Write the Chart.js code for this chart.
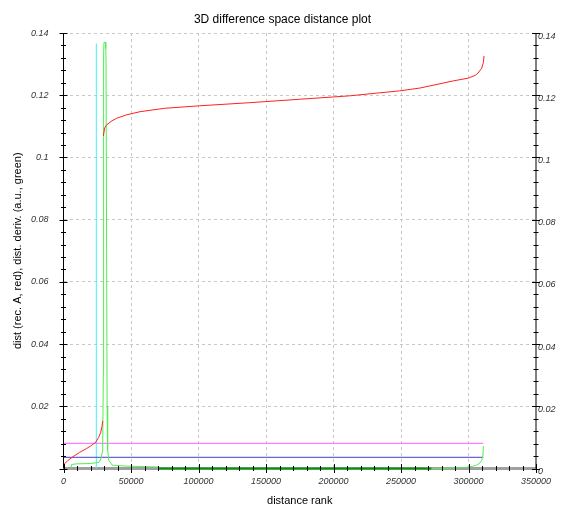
<!DOCTYPE html>
<html><head><meta charset="utf-8">
<script src="https://cdn.jsdelivr.net/npm/chart.js@4"></script>
<style>html,body{margin:0;padding:0;background:#fff}</style>
</head><body>
<canvas id="c" width="565" height="509" style="display:block;width:565px;height:509px"></canvas>
<script>
// ---- data ----
const redX = [0, 3000, 7000, 12000, 17000, 20000, 24000, 26000, 27500, 28500, 29000, 29200, 29500, 30500, 32000, 35000, 39400, 46800, 56700, 75000, 101000, 138000, 175000, 212000, 249000, 264000, 288700, 300000, 305000, 307000, 309800, 311000, 311500];
const redY = [0.0012, 0.0025, 0.0038, 0.0052, 0.0064, 0.0072, 0.0085, 0.0100, 0.0115, 0.0135, 0.0153, null, 0.1069, 0.1095, 0.1105, 0.1115, 0.1126, 0.1137, 0.1147, 0.1158, 0.1166, 0.1176, 0.1187, 0.1198, 0.1214, 0.1223, 0.1246, 0.1255, 0.1264, 0.1271, 0.1287, 0.1305, 0.1326];

const greenX = [5500, 6000, 10000, 20000, 26500, 28000, 29000, 29500, 29700, 30000, 31000, 31300, 31500, 32000, 32300, 32700, 33500, 36000, 45000, 60000, 70000];
const greenY = [0, 0.0013, 0.0015, 0.0016, 0.0020, 0.0035, 0.0060, 0.0300, 0.1330, 0.1370, 0.1370, 0.1350, 0.1310, 0.1310, 0.0200, 0.0060, 0.0027, 0.0011, 0.0008, 0.0006, 0.0005];

const greenTailX = [272600, 285000, 298700, 303000, 306000, 308500, 309800, 310700, 311000];
const greenTailY = [0, 0.0001, 0.0004, 0.0007, 0.0011, 0.0018, 0.0027, 0.0040, 0.0072];

const baseX = [70000, 272600];
const baseY = [0, 0];

const cyanX = [24300, 24300];
const cyanY = [0, 0.1366];

const pinkX = [0, 311000];
const pinkY = [0.0081, 0.0081];

const blueX = [0, 311000];
const blueY = [0.0036, 0.0036];

const xMajorStep = 50000, xMinorStep = 10000, xMax = 350000;
const yMajorStep = 0.02, yMinorStep = 0.004, yMax = 0.14;

const pts = (xs, ys) => xs.map((x, i) => ({x: x, y: ys[i]}));

const FONT = "'Liberation Sans', Arial, sans-serif";

const axisPlugin = {
  id: 'axisDecor',
  beforeDatasetsDraw(chart) {
    const {ctx, chartArea: a} = chart;
    ctx.save();
    ctx.strokeStyle = '#a0a0a0';
    ctx.lineWidth = 3;
    ctx.beginPath();
    ctx.moveTo(a.left, a.bottom);
    ctx.lineTo(a.right, a.bottom);
    ctx.stroke();
    ctx.restore();
  },
  afterDatasetsDraw(chart) {
    const {ctx, chartArea: a} = chart;
    const xs = chart.scales.x, ys = chart.scales.y;
    ctx.save();
    ctx.strokeStyle = '#000';
    ctx.lineWidth = 1;
    const line = (x1, y1, x2, y2) => { ctx.beginPath(); ctx.moveTo(x1, y1); ctx.lineTo(x2, y2); ctx.stroke(); };
    line(a.left, a.top, a.left, a.bottom);
    line(a.right, a.top, a.right, a.bottom);
    const ny = Math.round(yMax / yMinorStep);
    for (let i = 0; i <= ny; i++) {
      const py = Math.round(ys.getPixelForValue(i * yMinorStep)) + 0.5;
      const len = (i % 5 === 0) ? 4 : 2.5;
      line(a.left - len, py, a.left + len, py);
      line(a.right - len, py, a.right + len, py);
    }
    const nx = Math.round(xMax / xMinorStep);
    for (let i = 0; i <= nx; i++) {
      const px = Math.round(xs.getPixelForValue(i * xMinorStep)) + 0.5;
      const len = (i % 5 === 0) ? 4.5 : 2.5;
      line(px, a.bottom - len, px, a.bottom + len);
    }
    ctx.restore();
  }
};

const fmtY = v => String(parseFloat(Number(v).toFixed(3)));

new Chart(document.getElementById('c'), {
  type: 'line',
  data: {
    datasets: [
      {data: pts(redX, redY), borderColor: '#ff2020', order: 1},
      {data: pts(greenX, greenY), borderColor: '#50ee50', order: 2},
      {data: pts(greenTailX, greenTailY), borderColor: '#50ee50', order: 2},
      {data: pts(baseX, baseY), borderColor: '#009a00', borderWidth: 2, order: 3},
      {data: pts(blueX, blueY), borderColor: '#4040d0', order: 4},
      {data: pts(pinkX, pinkY), borderColor: '#ff60ff', order: 5},
      {data: pts(cyanX, cyanY), borderColor: '#40f0f0', order: 6}
    ].map(d => Object.assign({borderWidth: 1, pointRadius: 0, tension: 0, fill: false, clip: false, spanGaps: false}, d))
  },
  options: {
    responsive: false,
    devicePixelRatio: 1,
    animation: false,
    layout: {padding: 0},
    plugins: {
      legend: {display: false},
      tooltip: {enabled: false},
      title: {
        display: true,
        text: '3D difference space distance plot',
        color: '#000',
        font: {family: FONT, size: 12, weight: 'normal'},
        padding: {top: 12.8, bottom: 5.8}
      }
    },
    scales: {
      x: {
        type: 'linear', min: 0, max: xMax,
        afterFit: s => { s.height = 40.5; },
        ticks: {
          stepSize: xMajorStep, color: '#333', padding: 8, maxRotation: 0, autoSkip: false,
          font: {family: FONT, size: 9, style: 'italic'},
          callback: v => String(v)
        },
        grid: {
          drawTicks: false, lineWidth: 1,
          color: c => (c.tick && (c.tick.value === 0 || c.tick.value === xMax)) ? 'rgba(0,0,0,0)' : '#c8c8c8'
        },
        border: {display: false, dash: [3, 3]},
        title: {display: true, text: 'distance rank', color: '#000', font: {family: FONT, size: 11}, padding: {top: 0, bottom: 1.5}}
      },
      y: {
        type: 'linear', position: 'left', min: 0, max: yMax,
        afterFit: s => { s.width = 63.5; },
        ticks: {
          stepSize: yMajorStep, color: '#333', padding: 15, autoSkip: false,
          font: {family: FONT, size: 9, style: 'italic'},
          callback: v => (v === 0 ? '' : fmtY(v))
        },
        grid: {
          drawTicks: false, lineWidth: 1,
          color: c => (c.tick && c.tick.value === 0) ? 'rgba(0,0,0,0)' : '#c8c8c8'
        },
        border: {display: false, dash: [3, 3]},
        title: {display: true, text: 'dist (rec. A, red), dist. deriv. (a.u., green)', color: '#000', font: {family: FONT, size: 11}, padding: {top: 11.4, bottom: 0}}
      },
      y2: {
        type: 'linear', position: 'right', min: 0, max: yMax,
        afterFit: s => { s.width = 29; },
        ticks: {
          stepSize: yMajorStep, color: '#333', padding: 2, labelOffset: 3, autoSkip: false,
          font: {family: FONT, size: 9, style: 'italic'},
          callback: v => fmtY(v)
        },
        grid: {display: false, drawTicks: false},
        border: {display: false}
      }
    }
  },
  plugins: [axisPlugin]
});
</script>
</body></html>
